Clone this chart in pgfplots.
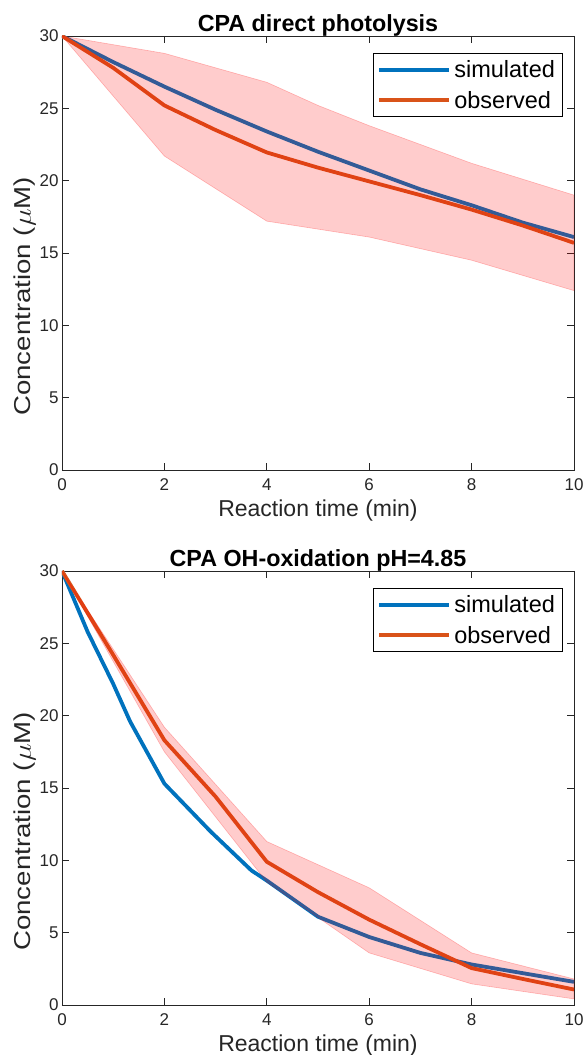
\documentclass[border=0pt]{standalone}
\usepackage{fontspec}
\setmainfont{Liberation Sans}
\usepackage{graphicx}
\usepackage{pgfplots}
\pgfplotsset{compat=1.18}
\definecolor{mblue}{rgb}{0,0.447,0.741}
\definecolor{morange}{rgb}{0.85,0.325,0.098}
\definecolor{axgray}{rgb}{0.15,0.15,0.15}
\pgfplotsset{
  mstyle/.style={
    scale only axis, width=512pt, height=434pt,
    xmin=0, xmax=10, ymin=0, ymax=30,
    xtick={0,2,...,10}, ytick={0,5,...,30},
    tick align=inside, major tick length=7pt,
    axis line style={axgray, line width=0.8pt},
    every tick/.style={axgray, line width=0.8pt},
    tick label style={axgray, font=\fontsize{17}{19}\selectfont},
    xticklabel style={yshift=-5pt},
    /pgf/number format/assume math mode=true,
    label style={axgray, font=\fontsize{23}{26}\selectfont},
    title style={font=\bfseries\fontsize{23.3}{26}\selectfont, yshift=-9.5pt},
    xlabel={Reaction time (min)},
    ylabel={\scalebox{1.2}[1]{Concentration ($\mu$M)}},
    xlabel style={yshift=-2pt},
    ylabel style={at={(ticklabel cs:0.40)}, yshift=-3pt},
    legend style={at={(0.977,0.96)}, anchor=north east, draw=black, line width=0.6pt,
      font=\fontsize{23.5}{27}\selectfont, inner xsep=4pt, inner ysep=4pt,
      nodes={inner sep=3pt}, row sep=6pt},
    legend cell align=left,
    legend image code/.code={\draw[#1, line width=4pt] (0pt,0pt) -- (70pt,0pt);},
  }
}
\begin{document}
\begin{tikzpicture}
\begin{axis}[mstyle, name=top, title={CPA direct photolysis}]
\addplot[mblue, line width=3.8pt] coordinates {
(0,30) (1,28.2) (2,26.5) (3,24.9) (4,23.4) (5,22.0) (6,20.7) (7,19.4) (8,18.3) (9,17.1) (10,16.1)};
\addlegendentry{simulated}
\addplot[morange, line width=3.8pt] coordinates {
(0,30) (1,27.8) (2,25.2) (3,23.5) (4,21.95) (5,20.9) (6,19.95) (7,19.0) (8,18.0) (9,16.9) (10,15.7)};
\addlegendentry{observed}
\addplot[forget plot, fill=red, fill opacity=0.2, draw=red, draw opacity=0.25, line width=0.6pt] coordinates {
(0,30) (2,28.8) (4,26.8) (5,25.2) (6,23.8) (8,21.2) (10,19.0)
(10,12.4) (8,14.5) (6,16.1) (4,17.2) (2,21.7) (0,30)} -- cycle;
\end{axis}
\begin{axis}[mstyle, name=bot, at={(top.south west)}, yshift=-101pt, anchor=north west,
  title={CPA OH-oxidation pH=4.85}]
\addplot[mblue, line width=3.8pt] coordinates {
(0,30) (0.5,25.8) (1,22.2) (1.33,19.6) (2,15.3) (2.9,12.0) (3.7,9.3) (4,8.6) (5,6.1) (6,4.7) (7,3.6) (8,2.8) (9,2.2) (10,1.6)};
\addlegendentry{simulated}
\addplot[morange, line width=3.8pt] coordinates {
(0,30) (1,24.2) (2,18.3) (3,14.4) (4,9.9) (5,7.8) (6,5.9) (7,4.2) (8,2.55) (9,1.8) (10,1.07)};
\addlegendentry{observed}
\addplot[forget plot, fill=red, fill opacity=0.2, draw=red, draw opacity=0.25, line width=0.6pt] coordinates {
(0,30) (2,19.2) (4,11.3) (6,8.1) (8,3.6) (10,1.8)
(10,0.42) (8,1.46) (6,3.6) (4,8.5) (2,17.5) (0,30)} -- cycle;
\end{axis}
\pgfresetboundingbox
\path ([shift={(-62pt,36pt)}]top.north west) rectangle ([shift={(526pt,-1019pt)}]top.north west);
\end{tikzpicture}
\end{document}
